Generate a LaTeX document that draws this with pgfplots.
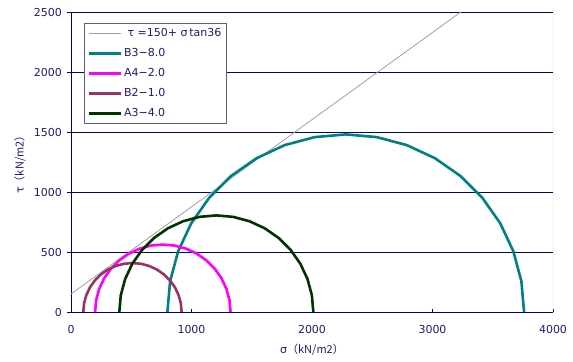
\documentclass[border=0pt]{standalone}
\usepackage{fontspec}
\setmainfont{DejaVu Sans}
\newfontfamily\cjk{Noto Sans CJK JP}
\usepackage{pgfplots}
\pgfplotsset{compat=1.18}
\usetikzlibrary{calc}
\definecolor{navy}{RGB}{0,0,128}
\definecolor{txtblue}{RGB}{28,28,120}
\definecolor{legborder}{RGB}{90,90,160}
\definecolor{tealc}{RGB}{0,128,128}
\definecolor{magc}{RGB}{255,0,255}
\definecolor{plumc}{RGB}{153,51,102}
\definecolor{dkgreen}{RGB}{0,51,0}
\definecolor{linegray}{RGB}{160,160,160}
\begin{document}
\begin{tikzpicture}
\begin{axis}[
  name=ax,
  scale only axis, width=482pt, height=300pt,
  xmin=0, xmax=4000, ymin=0, ymax=2500,
  xtick={0,1000,2000,3000,4000},
  ytick={0,500,1000,1500,2000,2500},
  axis x line*=bottom, axis y line*=left,
  axis line style={navy, line width=0.8pt},
  xtick align=inside, ytick align=outside,
  major tick length=3.5pt,
  tick style={navy, line width=0.8pt},
  ymajorgrids,
  major grid style={navy, line width=0.8pt},
  /pgf/number format/assume math mode=true,
  /pgf/number format/1000 sep={},
  ticklabel style={font=\fontsize{11}{13}\selectfont, text=txtblue},
  xticklabel style={yshift=-10pt},
  yticklabel style={xshift=-2pt},
  every axis y label/.style={at={(axis description cs:-0.106,0.5)}, rotate=90, anchor=center, font=\fontsize{11}{13}\selectfont, text=txtblue},
  every axis x label/.style={at={(axis description cs:0.5,-0.127)}, anchor=center, font=\fontsize{11}{13}\selectfont, text=txtblue},
  ylabel={τ{\cjk（kN/m2）}},
  xlabel={σ{\cjk（kN/m2）}},
  legend cell align=left,
  legend image code/.code={\draw[#1] (0pt,0pt) -- (32pt,0pt);},
  legend style={at={(0.027,0.963)}, anchor=north west, draw=legborder, line width=0.8pt, fill=white,
    font=\fontsize{11}{13}\selectfont, text=txtblue,
    nodes={text height=9pt, text depth=3pt, inner ysep=0pt, inner xsep=2pt},
    row sep=8pt, inner xsep=3pt, inner ysep=4pt},
]
% failure envelope
\addplot[linegray, line width=0.8pt] coordinates {(0,150) (3235,2500)};
\addlegendentry{\ τ\ =150+\ σ\,tan36}
% Mohr circles
\addplot[tealc, line width=2.6pt] coordinates {
(800,0) (822.5,256.9) (889.2,506.2) (998.3,740) (1146.3,951.3) (1328.7,1133.7)
(1540,1281.7) (1773.8,1390.8) (2023.1,1457.5) (2280,1480) (2536.9,1457.5)
(2786.2,1390.8) (3020,1281.7) (3231.3,1133.7) (3413.7,951.3) (3561.7,740)
(3670.8,506.2) (3737.5,256.9) (3760,0)};
\addlegendentry{B3−8.0}
\addplot[magc, line width=2.6pt] coordinates {
(200,0) (208.5,97.6) (233.9,192.2) (275.3,281) (331.5,361.3) (400.7,430.5)
(481,486.7) (569.8,528.1) (664.4,553.5) (762,562) (859.6,553.5) (954.2,528.1)
(1043,486.7) (1123.3,430.5) (1192.5,361.3) (1248.7,281) (1290.1,192.2)
(1315.5,97.6) (1324,0)};
\addlegendentry{A4−2.0}
\addplot[plumc, line width=2.6pt] coordinates {
(102,0) (108.2,70.8) (126.6,139.5) (156.7,204) (197.5,262.3) (247.7,312.5)
(306,353.3) (370.5,383.4) (439.2,401.8) (510,408) (580.8,401.8) (649.5,383.4)
(714,353.3) (772.3,312.5) (822.5,262.3) (863.3,204) (893.4,139.5)
(911.8,70.8) (918,0)};
\addlegendentry{B2−1.0}
\addplot[dkgreen, line width=2.6pt] coordinates {
(401,0) (413.2,139.8) (449.5,275.3) (508.9,402.5) (589.4,517.5) (688.5,616.6)
(803.5,697.1) (930.7,756.5) (1066.2,792.8) (1206,805) (1345.8,792.8)
(1481.3,756.5) (1608.5,697.1) (1723.5,616.6) (1822.6,517.5) (1903.1,402.5)
(1962.5,275.3) (1998.8,139.8) (2011,0)};
\addlegendentry{A3−4.0}
% right border of the plot area
\draw[linegray, line width=0.8pt] (rel axis cs:1,0) -- (rel axis cs:1,1);
\end{axis}
\path ($(ax.south west)+(-71pt,-49pt)$) rectangle ($(ax.north east)+(20pt,12pt)$);
\end{tikzpicture}
\end{document}
